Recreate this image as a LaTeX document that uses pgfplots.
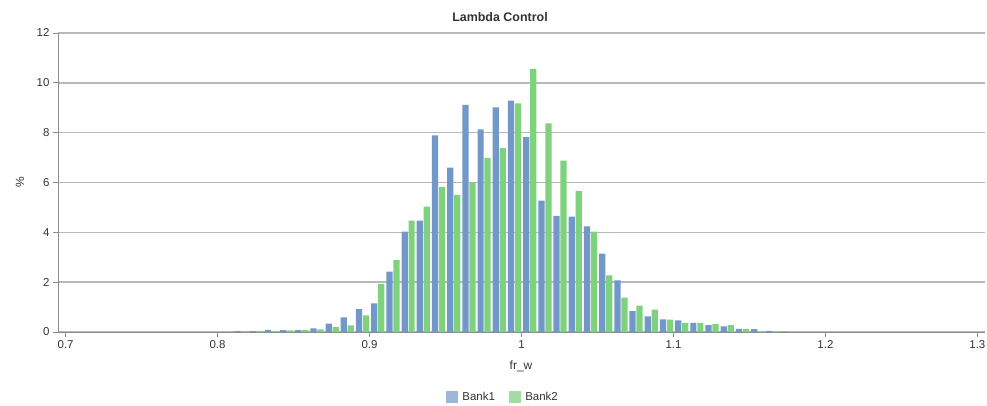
\documentclass[border=0pt]{standalone}
\usepackage{pgfplots}
\pgfplotsset{compat=1.18}
\usepackage{pgfplotstable}
\usepackage{fontspec}
\setmainfont{Liberation Sans}

\definecolor{bankone}{HTML}{7198C8}
\definecolor{banktwo}{HTML}{7ED27E}
\definecolor{bankonel}{HTML}{9DB7D8}
\definecolor{banktwol}{HTML}{A2DCA2}
\definecolor{txt}{HTML}{333333}

% bin start, % of samples
\pgfplotstableread{
x      b1     b2
0.81   0.04   0.03
0.82   0.04   0.04
0.83   0.09   0.04
0.84   0.08   0.07
0.85   0.08   0.08
0.86   0.15   0.11
0.87   0.34   0.20
0.88   0.59   0.27
0.89   0.92   0.67
0.90   1.15   1.93
0.91   2.42   2.88
0.92   4.03   4.47
0.93   4.47   5.03
0.94   7.89   5.81
0.95   6.60   5.50
0.96   9.12   6.00
0.97   8.13   6.99
0.98   9.02   7.38
0.99   9.29   9.18
1.00   7.82   10.56
1.01   5.27   8.37
1.02   4.66   6.88
1.03   4.63   5.65
1.04   4.24   4.03
1.05   3.15   2.27
1.06   2.07   1.38
1.07   0.84   1.06
1.08   0.63   0.90
1.09   0.51   0.50
1.10   0.47   0.37
1.11   0.37   0.37
1.12   0.28   0.33
1.13   0.23   0.28
1.14   0.13   0.12
1.15   0.12   0.03
1.16   0.05   0.02
1.17   0.02   0.01
}\lambdadata

\begin{document}
\begin{tikzpicture}
  \useasboundingbox (-58bp,-74bp) rectangle (929bp,332bp);
  \begin{axis}[
    scale only axis,
    width=927bp,
    height=299bp,
    xmin=0.695, xmax=1.305,
    ymin=0, ymax=12,
    xtick={0.7,0.8,0.9,1.0,1.1,1.2,1.3},
    xticklabels={0.7,0.8,0.9,1,1.1,1.2,1.3},
    ytick={0,2,4,6,8,10,12},
    axis x line*=bottom,
    axis y line*=left,
    axis line style={draw=black!45, line width=1pt},
    tick align=outside,
    major tick length=5bp,
    tick style={draw=black!45, line width=0.8pt},
    ymajorgrids,
    grid style={draw=black!28, line width=1.6pt},
    /pgf/number format/assume math mode=true,
    ticklabel style={font=\fontsize{11.5}{13}\selectfont, text=txt},
    legend columns=2,
    legend style={draw=none, fill=none, at={(0.48,-0.217)}, anchor=center,
      font=\fontsize{11.5}{13}\selectfont, text=txt,
      /tikz/every even column/.append style={column sep=12bp}},
    legend image code/.code={\fill[#1] (0bp,-5.5bp) rectangle (11bp,5.5bp);
      \path (14bp,0bp);},
  ]
    \addlegendimage{bankonel}
    \addlegendentry{Bank1}
    \addlegendimage{banktwol}
    \addlegendentry{Bank2}

    \addplot[ybar, bar width=0.0041, bar shift=0pt, fill=bankone, draw=none, forget plot]
      table[x expr=\thisrow{x}+0.0031, y=b1] {\lambdadata};
    \addplot[ybar, bar width=0.0041, bar shift=0pt, fill=banktwo, draw=none, forget plot]
      table[x expr=\thisrow{x}+0.0077, y=b2] {\lambdadata};
  \end{axis}
  \node[font=\bfseries\fontsize{12.5}{14}\selectfont, text=txt] at (442bp,315bp) {Lambda Control};
  \node[font=\fontsize{12}{14}\selectfont, text=txt] at (463bp,-34bp) {fr\_w};
  \node[font=\fontsize{12}{14}\selectfont, text=txt, rotate=90] at (-38bp,150bp) {\%};
\end{tikzpicture}
\end{document}
